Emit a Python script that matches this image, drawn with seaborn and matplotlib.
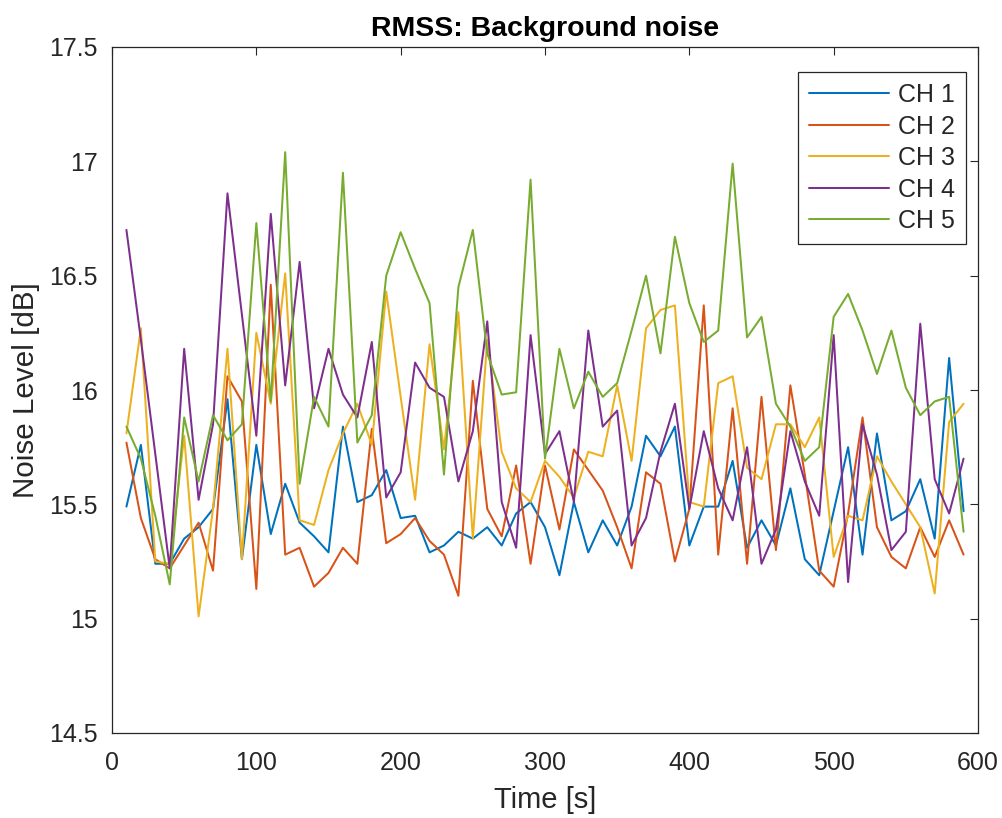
import numpy as np
import pandas as pd
import matplotlib
matplotlib.use("Agg")
import matplotlib.pyplot as plt
import seaborn as sns

time_s = list(range(10, 600, 10))

ch1 = [15.49, 15.76, 15.24, 15.24, 15.35, 15.40, 15.48, 15.96, 15.26, 15.76,
       15.37, 15.59, 15.42, 15.36, 15.29, 15.84, 15.51, 15.54, 15.65, 15.44,
       15.45, 15.29, 15.32, 15.38, 15.35, 15.40, 15.32, 15.46, 15.51, 15.40,
       15.19, 15.51, 15.29, 15.43, 15.32, 15.49, 15.80, 15.71, 15.84, 15.32,
       15.49, 15.49, 15.69, 15.31, 15.43, 15.32, 15.57, 15.26, 15.19, 15.47,
       15.75, 15.28, 15.81, 15.43, 15.47, 15.61, 15.35, 16.14, 15.47]
ch2 = [15.77, 15.44, 15.26, 15.22, 15.32, 15.42, 15.21, 16.06, 15.95, 15.13,
       16.46, 15.28, 15.31, 15.14, 15.20, 15.31, 15.24, 15.83, 15.33, 15.37,
       15.44, 15.34, 15.28, 15.10, 16.04, 15.48, 15.36, 15.67, 15.24, 15.67,
       15.39, 15.74, 15.65, 15.56, 15.40, 15.22, 15.64, 15.59, 15.25, 15.48,
       16.37, 15.28, 15.92, 15.24, 15.97, 15.30, 16.02, 15.63, 15.21, 15.14,
       15.46, 15.88, 15.40, 15.27, 15.22, 15.40, 15.27, 15.43, 15.28]
ch3 = [15.81, 16.27, 15.25, 15.24, 15.80, 15.01, 15.48, 16.18, 15.26, 16.25,
       15.94, 16.51, 15.43, 15.41, 15.65, 15.81, 15.94, 15.76, 16.43, 15.97,
       15.52, 16.20, 15.74, 16.34, 15.35, 16.22, 15.73, 15.57, 15.51, 15.69,
       15.62, 15.53, 15.73, 15.71, 16.02, 15.69, 16.27, 16.35, 16.37, 15.51,
       15.49, 16.03, 16.06, 15.66, 15.61, 15.85, 15.85, 15.75, 15.88, 15.27,
       15.45, 15.43, 15.71, 15.60, 15.50, 15.40, 15.11, 15.86, 15.94]
ch4 = [16.70, 16.22, 15.72, 15.22, 16.18, 15.52, 15.85, 16.86, 16.33, 15.80,
       16.77, 16.02, 16.56, 15.92, 16.18, 15.98, 15.88, 16.21, 15.53, 15.64,
       16.12, 16.01, 15.97, 15.60, 15.82, 16.30, 15.51, 15.31, 16.24, 15.72,
       15.82, 15.51, 16.26, 15.84, 15.91, 15.32, 15.44, 15.73, 15.94, 15.48,
       15.82, 15.57, 15.43, 15.75, 15.24, 15.39, 15.82, 15.60, 15.45, 16.24,
       15.16, 15.85, 15.63, 15.30, 15.38, 16.29, 15.61, 15.46, 15.70]
ch5 = [15.84, 15.70, 15.45, 15.15, 15.88, 15.60, 15.89, 15.78, 15.85, 16.73,
       15.95, 17.04, 15.59, 15.97, 15.84, 16.95, 15.77, 15.89, 16.50, 16.69,
       16.53, 16.38, 15.63, 16.45, 16.70, 16.16, 15.98, 15.99, 16.92, 15.70,
       16.18, 15.92, 16.08, 15.97, 16.03, 16.26, 16.50, 16.16, 16.67, 16.38,
       16.21, 16.26, 16.99, 16.23, 16.32, 15.94, 15.84, 15.69, 15.75, 16.32,
       16.42, 16.26, 16.07, 16.26, 16.01, 15.89, 15.95, 15.97, 15.38]

channels = ["CH 1", "CH 2", "CH 3", "CH 4", "CH 5"]
colors = ["#0072BD", "#D95319", "#EDB120", "#7E2F8E", "#77AC30"]
x_ticks = [0, 100, 200, 300, 400, 500, 600]
y_ticks = [14.5, 15, 15.5, 16, 16.5, 17, 17.5]

frames = []
for name, vals in zip(channels, [ch1, ch2, ch3, ch4, ch5]):
    frames.append(pd.DataFrame({"Time": time_s, "Level": vals, "Channel": name}))
df = pd.concat(frames, ignore_index=True)

sns.set_style("white")
plt.rcParams["font.family"] = ["Liberation Sans", "DejaVu Sans"]

fig = plt.figure(figsize=(10.03, 8.18), dpi=100)
ax = fig.add_axes([112 / 1003, 1 - 733 / 818, 866 / 1003, 686 / 818])

sns.lineplot(data=df, x="Time", y="Level", hue="Channel", palette=colors,
             hue_order=channels, linewidth=1.45, ax=ax, estimator=None)

axcol = "#262626"
ax.set_xlim(0, 600)
ax.set_ylim(14.5, 17.5)
ax.set_xticks(x_ticks)
ax.set_xticklabels([str(v) for v in x_ticks])
ax.set_yticks(y_ticks)
ax.set_yticklabels(["14.5", "15", "15.5", "16", "16.5", "17", "17.5"])
ax.tick_params(direction="in", length=6, width=0.8, colors=axcol,
               labelsize=18, top=True, right=True)
ax.tick_params(axis="x", pad=13)
ax.tick_params(axis="y", pad=10)
for s in ax.spines.values():
    s.set_color(axcol)
    s.set_linewidth(0.9)

ax.set_xlabel("Time [s]", fontsize=21, color=axcol, labelpad=8)
ax.set_ylabel("Noise Level [dB]", fontsize=21.3, color=axcol, labelpad=7)
ax.set_title("RMSS: Background noise", fontsize=20.5, fontweight="bold",
             color="#000000", pad=8)

leg = ax.legend(loc="upper right", bbox_to_anchor=(0.986, 0.9636),
                borderaxespad=0, fontsize=18, handlelength=3.2,
                handletextpad=0.35, labelspacing=0.3, fancybox=False,
                framealpha=1, edgecolor=axcol, borderpad=0.45)
leg.get_frame().set_linewidth(0.9)
for t in leg.get_texts():
    t.set_color(axcol)

fig.savefig("out.png", dpi=100)
